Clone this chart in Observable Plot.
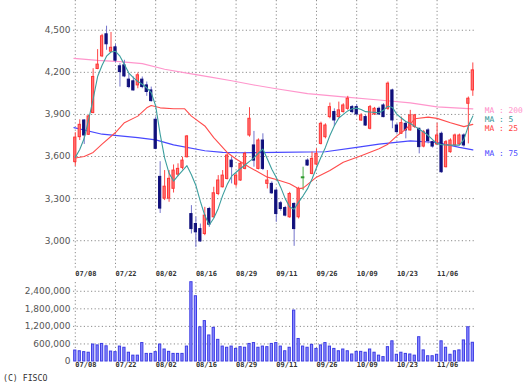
<!DOCTYPE html>
<html><head><meta charset="utf-8">
<script src="https://cdn.jsdelivr.net/npm/d3@7"></script>
<script src="https://cdn.jsdelivr.net/npm/@observablehq/plot@0.6"></script>
<style>
html,body{margin:0;padding:0;background:#fff;}
#wrap{position:relative;width:529px;height:383px;overflow:hidden;background:#fff;}
#wrap svg{position:absolute;left:0;}
#copy{position:absolute;left:3px;top:373px;line-height:10px;font-family:"DejaVu Sans Mono",monospace;font-size:8.2px;color:#333;white-space:pre;}
</style></head><body>
<div id="wrap"><div id="copy">(C) FISCO</div></div>
<script>
// ---- data ----
const dateLabels = ["07/08","07/22","08/02","08/16","08/29","09/11","09/26","10/09","10/23","11/06"];
const dateIndex  = [0,9,18,27,36,45,54,63,72,81];
const priceTicks = [3000,3300,3600,3900,4200,4500];
const volumeTicks = [0,600000,1200000,1800000,2400000];

const opens  = [3560,3738,3857,3755,3910,4224,4314,4471,4347,4378,4243,4250,4148,4136,4107,4148,4107,4071,3862,3455,3300,3300,3370,3471,3519,3595,3190,3119,3083,3048,3226,3167,3333,3381,3440,3571,3400,3429,3512,3750,3679,3512,3714,3405,3405,3357,3267,3233,3167,3262,3167,3452,3571,3476,3543,3690,3738,3881,3917,3881,3917,3940,3952,3952,3857,3881,3798,3900,3940,3964,3940,4071,3821,3762,3833,3786,3810,3798,3671,3786,3702,3686,3762,3524,3631,3679,3686,3750,3976,4071];
const highs  = [3770,3862,3862,3893,4226,4362,4471,4529,4484,4400,4262,4286,4190,4167,4195,4167,4131,4095,3881,3563,3500,3500,3540,3548,3595,3750,3250,3167,3119,3238,3238,3381,3464,3500,3619,3595,3476,3560,3631,3948,3779,3726,3762,3500,3420,3369,3280,3245,3345,3270,3381,3524,3583,3631,3655,3845,3833,3981,3940,3988,3976,4029,3964,3970,3905,3893,3964,3950,3952,3976,4131,4080,3833,3881,3845,3929,3900,3800,3786,3798,3710,3838,3774,3714,3726,3760,3760,3762,4024,4267];
const lows   = [3530,3714,3686,3750,3905,4219,4305,4357,4340,4267,4095,4162,4083,4067,4083,4083,4029,3988,3648,3194,3286,3274,3340,3457,3505,3590,3048,2952,2988,3036,3095,3162,3321,3376,3433,3405,3381,3424,3505,3738,3524,3505,3500,3369,3330,3131,3210,3170,3160,2960,3155,3357,3530,3470,3536,3683,3726,3869,3814,3875,3910,3929,3905,3893,3850,3814,3790,3893,3893,3876,3929,3798,3762,3760,3726,3781,3800,3619,3662,3690,3660,3679,3481,3519,3624,3671,3679,3667,3690,4029];
const closes = [3735,3826,3750,3886,4167,4255,4457,4400,4375,4283,4202,4171,4095,4071,4179,4095,4060,3995,3655,3229,3385,3441,3500,3512,3571,3743,3083,3060,2995,3179,3114,3338,3429,3464,3607,3524,3464,3548,3619,3869,3571,3714,3512,3429,3338,3190,3226,3179,3333,3083,3369,3452,3536,3583,3619,3833,3821,3952,3857,3929,3964,4012,3917,3900,3893,3821,3952,3940,3900,3881,4119,3857,3774,3838,3786,3893,3893,3667,3774,3710,3671,3750,3488,3702,3714,3750,3750,3679,4012,4214];
const volumes = [375000,350000,320000,300000,580000,550000,600000,520000,340000,320000,510000,470000,300000,200000,200000,630000,260000,260000,320000,580000,410000,330000,260000,260000,260000,510000,2710000,2230000,1170000,1380000,890000,1150000,740000,510000,470000,510000,430000,490000,470000,600000,630000,470000,510000,490000,600000,630000,510000,350000,470000,1740000,770000,510000,470000,570000,430000,550000,630000,510000,430000,350000,410000,350000,240000,330000,330000,300000,410000,300000,200000,150000,490000,690000,230000,300000,260000,240000,200000,830000,380000,180000,180000,230000,690000,470000,230000,350000,380000,720000,1170000,640000];

// moving averages: [candle index, value]
const ma5 = [[0,3594],[1,3650],[2,3730],[3,3865],[4,4010],[5,4170],[6,4250],[7,4315],[8,4345],[9,4350],[10,4315],[11,4255],[12,4195],[13,4162],[14,4135],[15,4115],[16,4090],[17,4055],[18,3960],[19,3760],[20,3590],[21,3480],[22,3425],[23,3464],[24,3500],[25,3535],[26,3470],[27,3394],[28,3280],[29,3180],[30,3112],[31,3160],[32,3230],[33,3323],[34,3400],[35,3460],[36,3488],[37,3515],[38,3540],[39,3565],[40,3590],[41,3625],[42,3653],[43,3582],[44,3510],[45,3450],[46,3380],[47,3300],[48,3240],[49,3224],[50,3275],[51,3320],[52,3371],[53,3440],[54,3520],[55,3595],[56,3665],[57,3750],[58,3820],[59,3875],[60,3900],[61,3925],[62,3940],[63,3945],[64,3935],[65,3920],[66,3917],[67,3915],[68,3912],[69,3930],[70,3959],[71,3950],[72,3900],[73,3875],[74,3850],[75,3835],[76,3815],[77,3795],[78,3775],[79,3750],[80,3720],[81,3692],[82,3685],[83,3682],[84,3681],[85,3681],[86,3681],[87,3720],[88,3818],[89,3888]];
const ma25 = [[0,3590],[2,3600],[4,3629],[6,3688],[9,3771],[11,3841],[14,3888],[16,3947],[17,3964],[19,3947],[22,3940],[24.5,3940],[26,3888],[29,3818],[31,3735],[34,3629],[36,3582],[39,3524],[43,3453],[45,3436],[48,3406],[50,3371],[51,3375],[54,3453],[57,3500],[60,3559],[64,3606],[68,3655],[70,3688],[72,3747],[74,3794],[76,3869],[79,3881],[81,3872],[84,3841],[87,3813],[89,3829]];
const ma75 = [[-0.3,3806],[6,3759],[14,3735],[18,3719],[22,3683],[29,3641],[33,3629],[37,3627],[45,3629],[56,3634],[63,3665],[68,3688],[75,3712],[81,3700],[86,3665],[89,3648]];
const ma200 = [[-0.3,4300],[5,4285],[10,4276],[15,4262],[20,4222],[25,4195],[30,4168],[35,4140],[40,4110],[45,4083],[52,4048],[60,4025],[68,4003],[75,3982],[81,3954],[89,3940]];

// ---- build ----
const candles = opens.map((o, i) => ({i, open: o, high: highs[i], low: lows[i], close: closes[i]}));
const dir = d => d.close > d.open ? "up" : d.close < d.open ? "down" : "flat";
const bodyFill   = {up: "#ff7878", down: "#10107c", flat: "#2f9a2f"};
const bodyStroke = {up: "#ff3434", down: "#10107c", flat: "#2f9a2f"};
const wickColor  = {up: "#ff4646", down: "#7474cc", flat: "#4caf4c"};
const maSeries = [
  {name: "MA : 200", pts: ma200, line: "#ff96cc", text: "#ff8cc8", dy: 2},
  {name: "MA : 5",   pts: ma5,   line: "#3c9e9e", text: "#2f9696", dy: 3.4},
  {name: "MA : 25",  pts: ma25,  line: "#ff4c4c", text: "#ff4040", dy: 3.8},
  {name: "MA : 75",  pts: ma75,  line: "#4848ff", text: "#4848ff", dy: 3.4}
];
const xDomain = [-0.4, 89.6];
const dash = "1.2,2.4";
const gridColor = "#8c8c8c";
const fmt = d3.format(",");
const baseStyle = {fontFamily: "DejaVu Sans", fontSize: "9px", background: "transparent", overflow: "visible"};
const last = s => s.pts[s.pts.length - 1];

const price = Plot.plot({
  width: 529, height: 280,
  marginLeft: 73, marginRight: 54, marginTop: 0, marginBottom: 12,
  x: {domain: xDomain, axis: null},
  y: {domain: [2802, 4712], axis: null},
  color: {type: "identity"},
  style: baseStyle,
  marks: [
    Plot.ruleY(priceTicks, {stroke: gridColor, strokeDasharray: dash}),
    Plot.ruleX(dateIndex, {stroke: gridColor, strokeDasharray: dash}),
    Plot.text(priceTicks, {y: d => d, frameAnchor: "left", text: d => fmt(d), textAnchor: "end", dx: -3, fill: "#555"}),
    Plot.text(dateLabels, {x: (d, k) => dateIndex[k], frameAnchor: "bottom", text: d => d, textAnchor: "start", dy: 7,
      fontFamily: "DejaVu Sans Mono", fontSize: 7, fontWeight: "bold", fill: "#333"}),
    Plot.line(ma200, {x: d => d[0], y: d => d[1], stroke: maSeries[0].line, strokeWidth: 1.2}),
    Plot.line(ma75, {x: d => d[0], y: d => d[1], stroke: maSeries[3].line, strokeWidth: 1.2}),
    Plot.ruleX(candles, {x: "i", y1: "low", y2: "high", stroke: d => wickColor[dir(d)], strokeWidth: 1}),
    Plot.rect(candles.filter(d => dir(d) !== "flat"), {x1: d => d.i - 0.25, x2: d => d.i + 0.25, y1: "open", y2: "close",
      fill: d => bodyFill[dir(d)], stroke: d => bodyStroke[dir(d)], strokeWidth: 1}),
    Plot.ruleY(candles.filter(d => dir(d) === "flat"), {y: "close", x1: d => d.i - 0.4, x2: d => d.i + 0.4, stroke: bodyStroke.flat, strokeWidth: 2}),
    Plot.line(ma25, {x: d => d[0], y: d => d[1], stroke: maSeries[2].line, strokeWidth: 1.1}),
    Plot.line(ma5, {x: d => d[0], y: d => d[1], stroke: maSeries[1].line, strokeWidth: 1.1}),
    ...maSeries.map(s => Plot.text([s], {x: d => last(d)[0], y: d => last(d)[1], text: "name", fill: "text",
      textAnchor: "start", dx: 12, dy: s.dy, fontFamily: "DejaVu Sans Mono", fontSize: 7.9}))
  ]
});

const vol = Plot.plot({
  width: 529, height: 94,
  marginLeft: 73, marginRight: 54, marginTop: 2, marginBottom: 13,
  x: {domain: xDomain, axis: null},
  y: {domain: [0, 2700000], axis: null},
  style: baseStyle,
  marks: [
    Plot.ruleY(volumeTicks.filter(v => v > 0), {stroke: gridColor, strokeDasharray: dash}),
    Plot.ruleX(dateIndex, {stroke: gridColor, strokeDasharray: dash}),
    Plot.text(volumeTicks, {y: d => d, frameAnchor: "left", text: d => fmt(d), textAnchor: "end", dx: -3, fill: "#555"}),
    Plot.text(dateLabels, {x: (d, k) => dateIndex[k], frameAnchor: "bottom", text: d => d, textAnchor: "start", dy: 5.7,
      fontFamily: "DejaVu Sans Mono", fontSize: 7, fontWeight: "bold", fill: "#333"}),
    Plot.rect(volumes, {x1: (d, i) => i - 0.25, x2: (d, i) => i + 0.25, y1: 0, y2: d => d,
      fill: "#8c8cff", stroke: "#3c3ce4", strokeWidth: 1})
  ]
});

const wrap = document.getElementById("wrap");
price.style.top = "0px";
vol.style.top = "280px";
wrap.appendChild(price);
wrap.appendChild(vol);
</script></body></html>
